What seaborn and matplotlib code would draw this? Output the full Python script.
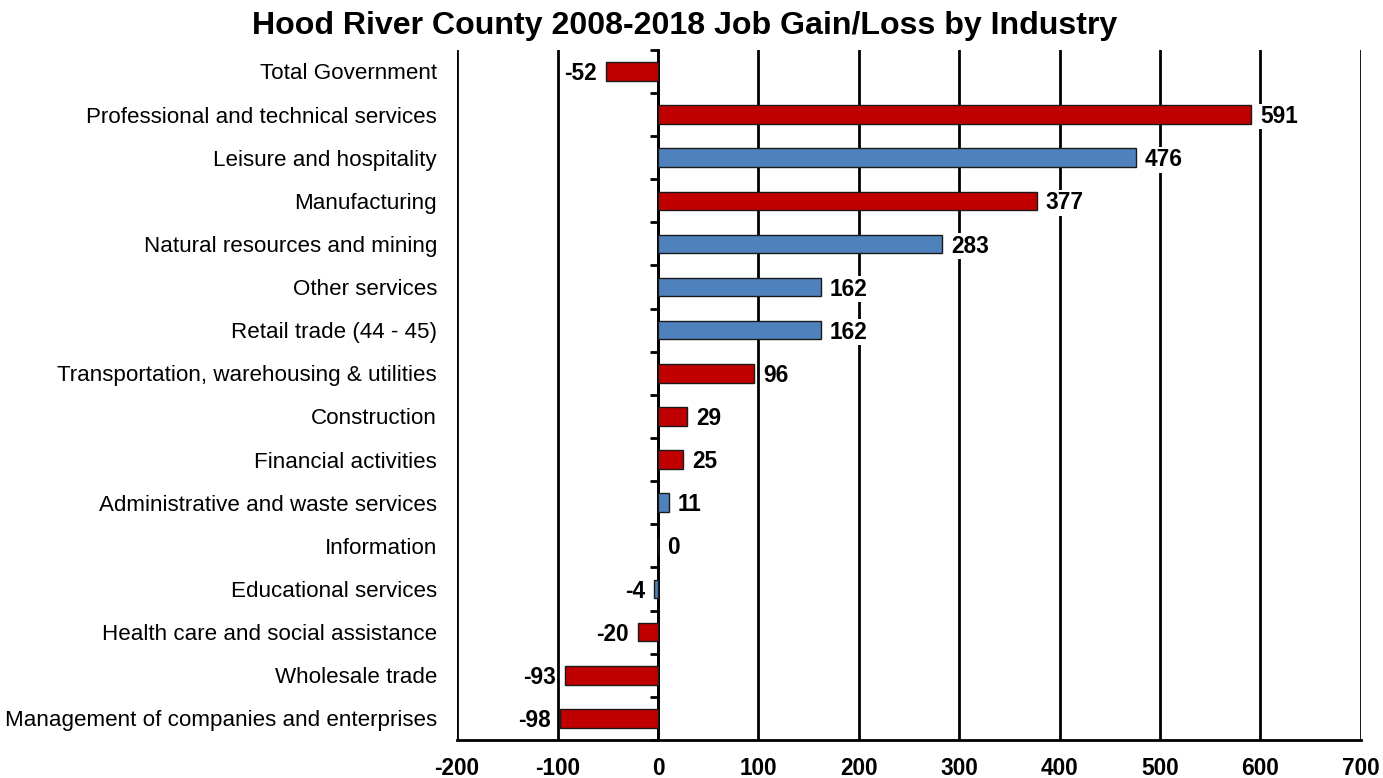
import numpy as np
import pandas as pd
import matplotlib
matplotlib.use("Agg")
import matplotlib.pyplot as plt
import seaborn as sns

industries = [
    "Total Government",
    "Professional and technical services",
    "Leisure and hospitality",
    "Manufacturing",
    "Natural resources and mining",
    "Other services",
    "Retail trade (44 - 45)",
    "Transportation, warehousing & utilities",
    "Construction",
    "Financial activities",
    "Administrative and waste services",
    "Information",
    "Educational services",
    "Health care and social assistance",
    "Wholesale trade",
    "Management of companies and enterprises",
]
job_change = [-52, 591, 476, 377, 283, 162, 162, 96, 29, 25, 11, 0, -4, -20, -93, -98]
group = ["red", "red", "blue", "red", "blue", "blue", "blue", "red",
         "red", "red", "blue", "blue", "blue", "red", "red", "red"]

df = pd.DataFrame({"industry": industries, "change": job_change, "group": group})

sns.set_style("white")
plt.rcParams["font.family"] = ["Liberation Sans", "DejaVu Sans"]
plt.rcParams["axes.unicode_minus"] = False
plt.rcParams["text.color"] = "black"

fig = plt.figure(figsize=(13.83, 7.78), dpi=100)
ax = fig.add_axes([0.3305, 0.0488, 0.6535, 0.8872])

sns.barplot(
    data=df,
    x="change",
    y="industry",
    hue="group",
    palette={"red": "#C00000", "blue": "#4F81BD"},
    saturation=1,
    orient="h",
    width=0.43,
    edgecolor="#1a1a1a",
    linewidth=1,
    legend=False,
    ax=ax,
    zorder=3,
)

ax.set_xlim(-200, 700)
ax.set_ylim(15.5, -0.5)
ax.set_xticks(np.arange(-200, 701, 100))
ax.grid(axis="x", color="black", linewidth=2)
ax.grid(axis="y", visible=False)
ax.set_axisbelow(True)

for s in ["top", "right", "left"]:
    ax.spines[s].set_visible(False)
ax.spines["bottom"].set_linewidth(2)
ax.spines["bottom"].set_color("black")

ax.tick_params(axis="x", direction="out", length=6, width=2, colors="black",
               labelsize=16.3, pad=6)
for lbl in ax.get_xticklabels():
    lbl.set_fontweight("bold")
ax.tick_params(axis="y", length=0, labelsize=16.1, pad=14.5, colors="black")
ax.set_xlabel("")
ax.set_ylabel("")

# zero axis with ticks between categories
zero_ax = ax.secondary_yaxis(2 / 9)
zero_ax.set_yticks(np.arange(-0.5, 16, 1))
zero_ax.set_yticklabels([])
zero_ax.spines["left"].set_linewidth(2)
zero_ax.spines["left"].set_color("black")
zero_ax.tick_params(axis="y", direction="out", length=6, width=2, colors="black")

for i, v in enumerate(job_change):
    off = 6.5 if v >= 0 else -6.5
    ax.annotate(
        f"{v}",
        xy=(v, i),
        xytext=(off, -1.5),
        textcoords="offset points",
        ha="left" if v >= 0 else "right",
        va="center",
        fontsize=16.3,
        fontweight="bold",
        color="black",
        bbox=dict(facecolor="white", edgecolor="none", pad=1),
        zorder=5,
    )

fig.suptitle("Hood River County 2008-2018 Job Gain/Loss by Industry",
             x=0.495, y=0.986, va="top", fontsize=23.1, fontweight="bold",
             color="black")

fig.savefig("out.png", dpi=100)
